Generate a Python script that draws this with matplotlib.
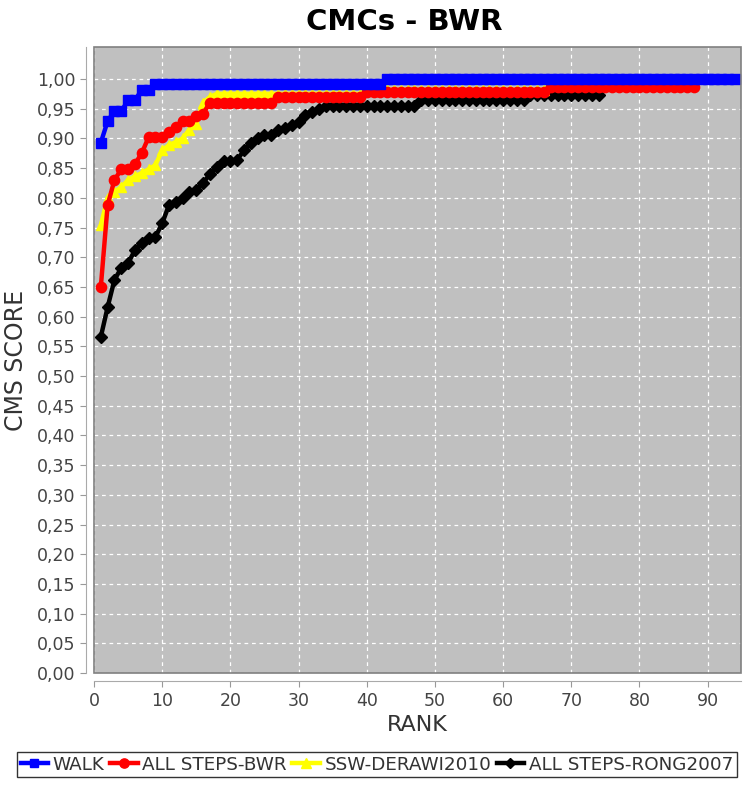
import matplotlib
matplotlib.use('Agg')
import matplotlib.pyplot as plt
from matplotlib.patches import Rectangle
from matplotlib.ticker import FuncFormatter

# CMC values, one value per rank
walk = [0.893, 0.929, 0.946, 0.946, 0.964, 0.964, 0.982, 0.982, 0.991, 0.991,
        0.991, 0.991, 0.991, 0.991, 0.991, 0.991, 0.991, 0.991, 0.991, 0.991,
        0.991, 0.991, 0.991, 0.991, 0.991, 0.991, 0.991, 0.991, 0.991, 0.991,
        0.991, 0.991, 0.991, 0.991, 0.991, 0.991, 0.991, 0.991, 0.991, 0.991,
        0.991, 0.991, 1.0, 1.0, 1.0, 1.0, 1.0, 1.0, 1.0, 1.0,
        1.0, 1.0, 1.0, 1.0, 1.0, 1.0, 1.0, 1.0, 1.0, 1.0,
        1.0, 1.0, 1.0, 1.0, 1.0, 1.0, 1.0, 1.0, 1.0, 1.0,
        1.0, 1.0, 1.0, 1.0, 1.0, 1.0, 1.0, 1.0, 1.0, 1.0,
        1.0, 1.0, 1.0, 1.0, 1.0, 1.0, 1.0, 1.0, 1.0, 1.0,
        1.0, 1.0, 1.0, 1.0]

steps_bwr = [0.65, 0.788, 0.83, 0.848, 0.848, 0.857, 0.875, 0.902, 0.902, 0.902,
             0.911, 0.92, 0.929, 0.929, 0.938, 0.942, 0.96, 0.96, 0.96, 0.96,
             0.96, 0.96, 0.96, 0.96, 0.96, 0.96, 0.97, 0.97, 0.97, 0.97,
             0.97, 0.97, 0.97, 0.97, 0.97, 0.97, 0.97, 0.97, 0.97, 0.978,
             0.978, 0.978, 0.978, 0.978, 0.978, 0.978, 0.978, 0.978, 0.978, 0.978,
             0.978, 0.978, 0.978, 0.978, 0.978, 0.978, 0.978, 0.978, 0.978, 0.978,
             0.978, 0.978, 0.978, 0.978, 0.978, 0.978, 0.987, 0.987, 0.987, 0.987,
             0.987, 0.987, 0.987, 0.987, 0.987, 0.987, 0.987, 0.987, 0.987, 0.987,
             0.987, 0.987, 0.987, 0.987, 0.987, 0.987, 0.987, 0.987]

ssw_derawi = [0.754, 0.80, 0.81, 0.818, 0.83, 0.836, 0.842, 0.848, 0.855, 0.88,
              0.889, 0.894, 0.90, 0.915, 0.925, 0.96, 0.97, 0.975, 0.975, 0.975,
              0.975, 0.975, 0.975, 0.975, 0.975, 0.975, 0.975, 0.975, 0.975, 0.975,
              0.975, 0.975, 0.975, 0.975, 0.975, 0.975, 0.975, 0.975, 0.975, 0.982,
              0.982, 0.982, 0.982, 0.982, 0.982, 0.982, 0.982, 0.982, 0.982, 0.982,
              0.982, 0.982, 0.982, 0.982, 0.982, 0.982, 0.982, 0.982, 0.982, 0.982,
              0.982, 0.982, 0.982, 0.982, 0.982, 0.982]

steps_rong = [0.566, 0.616, 0.662, 0.682, 0.69, 0.712, 0.724, 0.732, 0.734, 0.757,
              0.788, 0.793, 0.80, 0.81, 0.813, 0.825, 0.84, 0.852, 0.862, 0.862,
              0.864, 0.88, 0.892, 0.90, 0.906, 0.906, 0.914, 0.917, 0.922, 0.928,
              0.94, 0.944, 0.95, 0.955, 0.955, 0.955, 0.955, 0.955, 0.955, 0.955,
              0.955, 0.955, 0.955, 0.955, 0.955, 0.955, 0.955, 0.964, 0.964, 0.964,
              0.964, 0.964, 0.964, 0.964, 0.964, 0.964, 0.964, 0.964, 0.964, 0.964,
              0.964, 0.964, 0.964, 0.973, 0.973, 0.973, 0.973, 0.973, 0.973, 0.973,
              0.973, 0.973, 0.973, 0.973]

names = ['WALK', 'ALL STEPS-BWR', 'SSW-DERAWI2010', 'ALL STEPS-RONG2007']
x_ticks = [0, 10, 20, 30, 40, 50, 60, 70, 80, 90]
y_ticks = [0.0, 0.05, 0.1, 0.15, 0.2, 0.25, 0.3, 0.35, 0.4, 0.45, 0.5,
           0.55, 0.6, 0.65, 0.7, 0.75, 0.8, 0.85, 0.9, 0.95, 1.0]

fig = plt.figure(figsize=(7.56, 7.86), dpi=100)
ax = fig.add_axes([94 / 756, 1 - 673 / 786, (741 - 94) / 756, (673 - 47) / 786])
ax.set_facecolor('#c0c0c0')

series = [
    (walk, '#0000ff', 's', 7.0, 4),
    (steps_bwr, '#ff0000', 'o', 7.4, 3),
    (ssw_derawi, '#ffff00', '^', 7.6, 2),
    (steps_rong, '#000000', 'D', 6.0, 1),
]
handles = []
for (vals, col, mk, ms, z), name in zip(series, names):
    ranks = list(range(1, len(vals) + 1))
    h, = ax.plot(ranks, vals, color=col, lw=3.2, marker=mk, ms=ms,
                 mec=col, mfc=col, zorder=z + 2, label=name)
    handles.append(h)

ax.set_xlim(0, 94.9)
ax.set_ylim(0, 1.054)
ax.set_xticks(x_ticks)
ax.set_yticks(y_ticks)
ax.yaxis.set_major_formatter(FuncFormatter(lambda v, p: f'{v:.2f}'.replace('.', ',')))

ax.grid(True, color='white', linestyle=(0, (3, 3)), linewidth=0.9)
ax.set_axisbelow(True)

for s in ['top', 'right']:
    ax.spines[s].set_visible(False)
for s in ['left', 'bottom']:
    ax.spines[s].set_position(('outward', 6))
    ax.spines[s].set_color('#aaaaaa')
ax.add_patch(Rectangle((0, 0), 1, 1, transform=ax.transAxes, fill=False,
                       edgecolor='#808080', lw=1.2, zorder=10, clip_on=False))

ax.tick_params(axis='both', direction='out', length=4, color='#999999',
               labelsize=12.5, labelcolor='#444444')

ax.set_xlabel('RANK', fontsize=16, color='#333333', labelpad=4)
ax.set_ylabel('CMS SCORE', fontsize=17, color='#333333', labelpad=6)
fig.text(404 / 756, 1 - 22 / 786, 'CMCs - BWR', fontsize=21, fontweight='bold',
         ha='center', va='center')

leg = fig.legend(handles=handles, loc='upper left', ncol=4,
                 bbox_to_anchor=(17 / 756, 1 - 752 / 786), fontsize=13.2,
                 handlelength=1.5, handletextpad=0.25, columnspacing=0.3,
                 borderpad=0.2, borderaxespad=0, frameon=True, fancybox=False,
                 markerscale=0.9)
leg.get_frame().set_edgecolor('black')
leg.get_frame().set_linewidth(1)
for t in leg.get_texts():
    t.set_color('#333333')

fig.savefig('out.png', dpi=100)
